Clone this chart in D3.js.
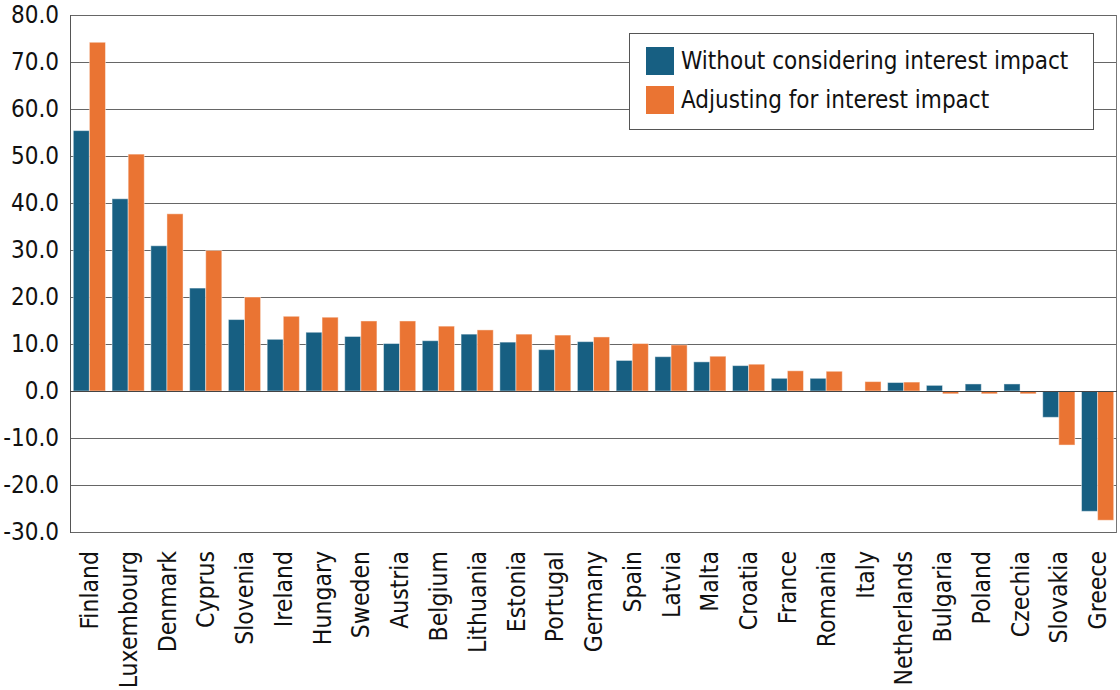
<!DOCTYPE html>
<html>
  <head>
    <title>Interest impact by country</title>
    <style>
      body {
        margin: 0;
        padding: 0;
        overflow: hidden;
        background: #fff;
      }
      svg {
        display: block;
        font-family: "DejaVu Sans Condensed", "DejaVu Sans", sans-serif;
      }
    </style>
    <script src="https://unpkg.com/d3@7.1.1/dist/d3.min.js"></script>
  </head>
  <body>
    <svg width="1120" height="690"></svg>
    <script>
      // Datos
      const countries = ['Finland', 'Luxembourg', 'Denmark', 'Cyprus', 'Slovenia', 'Ireland', 'Hungary',
        'Sweden', 'Austria', 'Belgium', 'Lithuania', 'Estonia', 'Portugal', 'Germany', 'Spain', 'Latvia',
        'Malta', 'Croatia', 'France', 'Romania', 'Italy', 'Netherlands', 'Bulgaria', 'Poland', 'Czechia',
        'Slovakia', 'Greece'];
      const withoutInterest = [55.4, 40.9, 30.9, 21.9, 15.2, 11.0, 12.5, 11.6, 10.1, 10.7, 12.1, 10.4, 8.8,
        10.5, 6.5, 7.3, 6.2, 5.4, 2.7, 2.7, 0.0, 1.8, 1.2, 1.5, 1.5, -5.6, -25.6];
      const adjustedInterest = [74.2, 50.4, 37.7, 29.9, 20.0, 15.9, 15.7, 14.9, 14.9, 13.8, 13.0, 12.1, 11.9,
        11.5, 10.1, 9.8, 7.4, 5.7, 4.3, 4.2, 2.0, 1.9, -0.6, -0.6, -0.6, -11.5, -27.5];
      const seriesNames = ['Without considering interest impact', 'Adjusting for interest impact'];
      const yTicks = [-30, -20, -10, 0, 10, 20, 30, 40, 50, 60, 70, 80];

      const colors = ['#175f82', '#ea7433'];
      const margin = {left: 70, right: 1117, top: 15, bottom: 532};

      const svg = d3.select('svg');

      // Formato con guion normal para los negativos
      const fmt = d3.formatLocale({decimal: '.', thousands: ',', grouping: [3], currency: ['', ''], minus: '-'})
        .format('.1f');

      const x = d3.scaleBand()
        .domain(countries)
        .range([margin.left, margin.right])
        .paddingInner(0.17)
        .paddingOuter(0.085);

      const x1 = d3.scaleBand()
        .domain([0, 1])
        .range([0, x.bandwidth()]);

      const y = d3.scaleLinear()
        .domain([-30, 80])
        .range([margin.bottom, margin.top]);

      // Líneas de la cuadrícula
      svg.append('g')
        .selectAll('line')
        .data(yTicks)
        .enter()
        .append('line')
        .attr('x1', margin.left)
        .attr('x2', margin.right)
        .attr('y1', d => Math.round(y(d)) + 0.5)
        .attr('y2', d => Math.round(y(d)) + 0.5)
        .attr('stroke', '#666')
        .attr('stroke-width', 1);

      // Etiquetas del eje Y
      svg.append('g')
        .selectAll('text')
        .data(yTicks)
        .enter()
        .append('text')
        .attr('x', margin.left - 11)
        .attr('y', d => y(d))
        .attr('dy', '0.35em')
        .attr('text-anchor', 'end')
        .attr('font-size', 24)
        .attr('fill', '#111')
        .text(d => fmt(d));

      // Barras
      const rows = countries.map((c, i) => ({country: c, values: [withoutInterest[i], adjustedInterest[i]]}));

      const groups = svg.append('g')
        .selectAll('g')
        .data(rows)
        .enter()
        .append('g')
        .attr('transform', d => `translate(${x(d.country)},0)`);

      groups.selectAll('rect')
        .data(d => d.values.map((v, k) => ({v, k})))
        .enter()
        .append('rect')
        .attr('x', d => x1(d.k))
        .attr('width', x1.bandwidth())
        .attr('y', d => y(Math.max(0, d.v)))
        .attr('height', d => Math.abs(y(d.v) - y(0)))
        .attr('fill', d => colors[d.k])
        .attr('stroke', '#fff')
        .attr('stroke-opacity', 0.45)
        .attr('stroke-width', 1);

      // Marco del gráfico
      svg.append('line')
        .attr('x1', margin.left + 0.5).attr('x2', margin.left + 0.5)
        .attr('y1', margin.top).attr('y2', margin.bottom + 1)
        .attr('stroke', '#555');
      svg.append('line')
        .attr('x1', margin.right - 0.5).attr('x2', margin.right - 0.5)
        .attr('y1', margin.top).attr('y2', margin.bottom + 1)
        .attr('stroke', '#777');
      svg.append('line')
        .attr('x1', margin.left).attr('x2', margin.right)
        .attr('y1', Math.round(y(0)) + 0.5).attr('y2', Math.round(y(0)) + 0.5)
        .attr('stroke', '#444');

      // Etiquetas del eje X
      svg.append('g')
        .selectAll('text')
        .data(countries)
        .enter()
        .append('text')
        .attr('transform', d => `translate(${x(d) + x.bandwidth() / 2},551) rotate(-90)`)
        .attr('dy', '0.35em')
        .attr('text-anchor', 'end')
        .attr('font-size', 24.5)
        .attr('fill', '#111')
        .text(d => d);

      // Leyenda
      const legend = svg.append('g').attr('transform', 'translate(629,33)');
      legend.append('rect')
        .attr('x', 0.5).attr('y', 0.5)
        .attr('width', 464).attr('height', 96)
        .attr('fill', '#fff')
        .attr('stroke', '#555');
      seriesNames.forEach((name, i) => {
        legend.append('rect')
          .attr('x', 17).attr('y', 14 + i * 39)
          .attr('width', 28).attr('height', 28)
          .attr('fill', colors[i]);
        legend.append('text')
          .attr('x', 52).attr('y', 28 + i * 39)
          .attr('dy', '0.35em')
          .attr('font-size', 24)
          .attr('fill', '#111')
          .text(name);
      });
    </script>
  </body>
</html>
